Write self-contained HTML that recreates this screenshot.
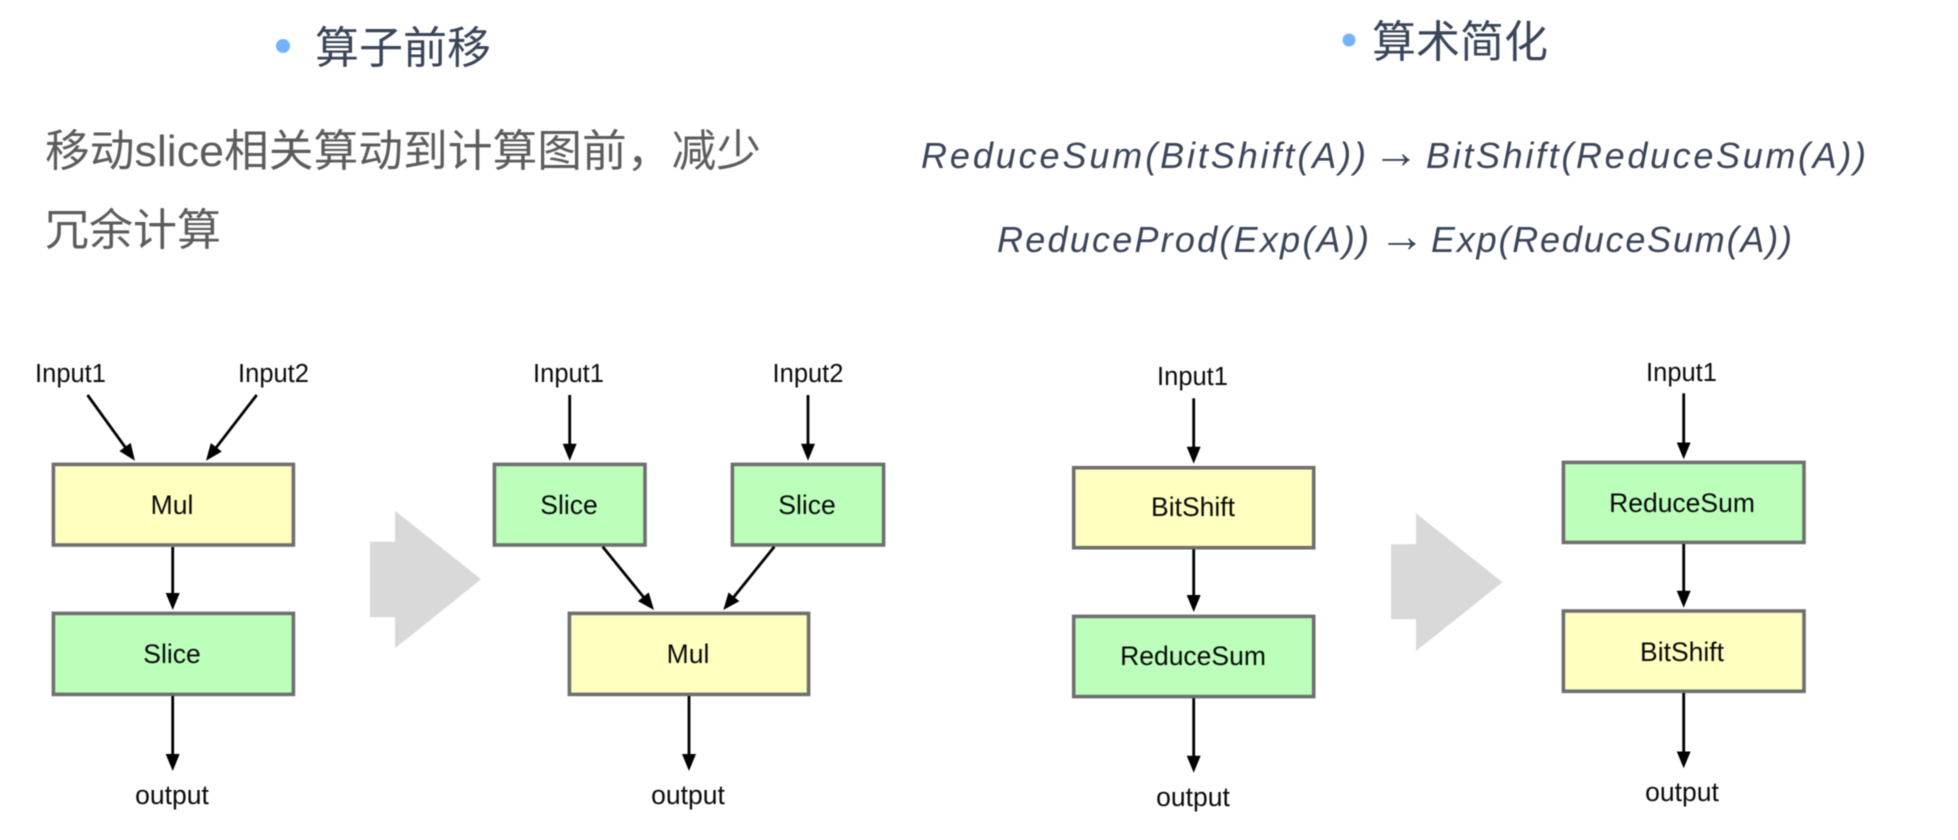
<!DOCTYPE html>
<html lang="zh">
<head>
<meta charset="utf-8">
<style>
html,body{margin:0;padding:0;background:#fff;width:1958px;height:840px;overflow:hidden}
svg{display:block;filter:blur(.45px)}
.cjk{font-family:"Liberation Sans","Noto Sans CJK SC",sans-serif;font-size:44px}
.t{fill:#3a4559}
.b{fill:#5c5c5c}
.m{font-family:"Liberation Sans",sans-serif;font-style:italic;font-size:36px;fill:#3a4559}
.ar{font-family:"Liberation Sans","DejaVu Sans",sans-serif;font-size:46px;fill:#3a4559}
.l{font-family:"Liberation Sans",sans-serif;font-size:26.5px;fill:#0a0a0a;text-anchor:middle}
.i{font-size:25.5px}
.y{fill:#ffffc0;stroke:#6f6f6f;stroke-width:3.6}
.g{fill:#bbffbb;stroke:#6f6f6f;stroke-width:3.6}
.a{stroke:#000;stroke-width:2.8;fill:none;marker-end:url(#h)}
.p{fill:#d9d9d9}
</style>
</head>
<body>
<svg width="1958" height="840" viewBox="0 0 1958 840" xmlns="http://www.w3.org/2000/svg">
<defs>
<marker id="h" markerUnits="userSpaceOnUse" markerWidth="19" markerHeight="15" refX="7" refY="7" orient="auto">
<path d="M0,0 L17,7 L0,14 Z" fill="#000"/>
</marker>
</defs>
<rect width="1958" height="840" fill="#fff"/>

<circle cx="283" cy="46" r="7" fill="#74b2ff"/>
<text class="cjk t" x="315" y="63">算子前移</text>
<circle cx="1349" cy="40" r="6.5" fill="#74b2ff"/>
<text class="cjk t" x="1372" y="57">算术简化</text>

<text class="cjk b" x="45" y="166" textLength="716" lengthAdjust="spacingAndGlyphs">移动slice相关算动到计算图前，减少</text>
<text class="cjk b" x="45" y="245">冗余计算</text>

<text class="m" x="921" y="168" textLength="445" lengthAdjust="spacing">ReduceSum(BitShift(A))</text>
<text class="ar" x="1373" y="167.5">→</text>
<text class="m" x="1426" y="168" textLength="440" lengthAdjust="spacing">BitShift(ReduceSum(A))</text>
<text class="m" x="997" y="252" textLength="372" lengthAdjust="spacing">ReduceProd(Exp(A))</text>
<text class="ar" x="1379" y="251.5">→</text>
<text class="m" x="1431" y="252" textLength="361" lengthAdjust="spacing">Exp(ReduceSum(A))</text>

<!-- Diagram 1 -->
<rect class="y" x="53.4" y="464.4" width="240" height="80.6"/>
<rect class="g" x="53.4" y="613.4" width="240" height="81"/>
<line class="a" x1="87.5" y1="395" x2="129.1" y2="452.6"/>
<line class="a" x1="256.7" y1="395" x2="212.1" y2="452.8"/>
<line class="a" x1="172.7" y1="547" x2="172.7" y2="600"/>
<line class="a" x1="172.7" y1="696" x2="172.7" y2="761"/>
<text class="l i" x="70.5" y="382">Input1</text>
<text class="l i" x="273.5" y="382">Input2</text>
<text class="l" x="172" y="514">Mul</text>
<text class="l" x="172" y="663">Slice</text>
<text class="l" x="172" y="804">output</text>

<polygon class="p" points="370,541.7 395,541.7 395,510.7 481,579.3 395,648.3 395,617.3 370,617.3"/>

<!-- Diagram 2 -->
<rect class="g" x="494.4" y="464.4" width="150.6" height="80.6"/>
<rect class="g" x="732.4" y="464.4" width="151.2" height="80.6"/>
<rect class="y" x="569.4" y="613.4" width="239.2" height="81"/>
<line class="a" x1="569.7" y1="395" x2="569.7" y2="450.7"/>
<line class="a" x1="808" y1="395" x2="808" y2="450.7"/>
<line class="a" x1="602.7" y1="546.7" x2="647.7" y2="602.2"/>
<line class="a" x1="774.3" y1="546.7" x2="729.6" y2="602.2"/>
<line class="a" x1="689" y1="696" x2="689" y2="761"/>
<text class="l i" x="568.5" y="382">Input1</text>
<text class="l i" x="808" y="382">Input2</text>
<text class="l" x="569" y="514">Slice</text>
<text class="l" x="807" y="514">Slice</text>
<text class="l" x="688" y="663">Mul</text>
<text class="l" x="688" y="804">output</text>

<!-- Diagram 3 -->
<rect class="y" x="1073.7" y="467.7" width="240" height="80"/>
<rect class="g" x="1073.7" y="616.4" width="240" height="80.2"/>
<line class="a" x1="1193.7" y1="398.3" x2="1193.7" y2="453.7"/>
<line class="a" x1="1193.7" y1="549.3" x2="1193.7" y2="602"/>
<line class="a" x1="1193.7" y1="698.3" x2="1193.7" y2="762.7"/>
<text class="l i" x="1192.5" y="385">Input1</text>
<text class="l" x="1193" y="516">BitShift</text>
<text class="l" x="1193" y="665">ReduceSum</text>
<text class="l" x="1193" y="806">output</text>

<polygon class="p" points="1391,544.3 1416,544.3 1416,513.3 1502.3,582.3 1416,651 1416,619.3 1391,619.3"/>

<!-- Diagram 4 -->
<rect class="g" x="1563.4" y="462.4" width="240.6" height="80"/>
<rect class="y" x="1563.4" y="611" width="240.6" height="80.3"/>
<line class="a" x1="1683.7" y1="393.3" x2="1683.7" y2="449.3"/>
<line class="a" x1="1683.7" y1="544" x2="1683.7" y2="597.7"/>
<line class="a" x1="1683.7" y1="693" x2="1683.7" y2="758.3"/>
<text class="l i" x="1681.5" y="381">Input1</text>
<text class="l" x="1682" y="512">ReduceSum</text>
<text class="l" x="1682" y="661">BitShift</text>
<text class="l" x="1682" y="801">output</text>
</svg>
</body>
</html>
